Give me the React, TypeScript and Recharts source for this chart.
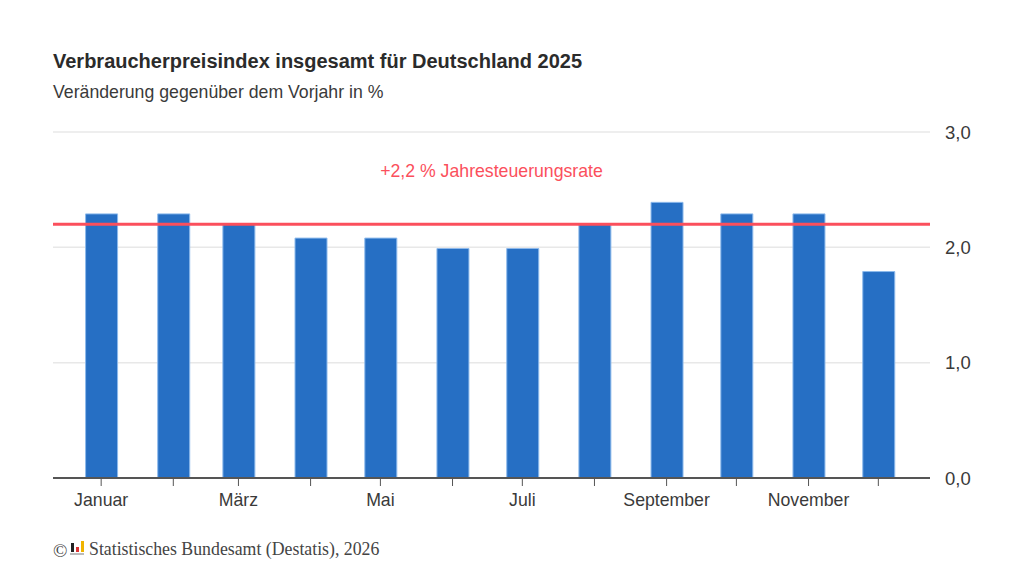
import React from 'react';
import { BarChart, Bar, XAxis, YAxis, CartesianGrid, ReferenceLine } from 'recharts';

const MONTHS = ['Januar', 'Februar', 'März', 'April', 'Mai', 'Juni', 'Juli', 'August', 'September', 'Oktober', 'November', 'Dezember'];
const MONTH_STARTS = ['2025-01-01', '2025-02-01', '2025-03-01', '2025-04-01', '2025-05-01', '2025-06-01', '2025-07-01', '2025-08-01', '2025-09-01', '2025-10-01', '2025-11-01', '2025-12-01'];
const VALUES = [2.29, 2.29, 2.2, 2.08, 2.08, 1.99, 1.99, 2.2, 2.39, 2.29, 2.29, 1.79];
const Y_TICKS = [0, 1, 2, 3];
const ANNUAL_RATE = 2.2;

const DAY = 86400000;
const times = MONTH_STARTS.map((d) => Date.parse(d));
const data = times.map((time, i) => ({ time, value: VALUES[i] }));

const monthLabel = (time: number) => {
    const index = times.indexOf(time);
    return index % 2 === 0 ? MONTHS[index] : '';
};

const FONT = '"Liberation Sans", Arial, sans-serif';
const TEXT = '#3a3a3a';
const RED = '#fb4f5c';

export default function App() {
    return (
        <div style={{ position: 'absolute', left: 0, top: 0, width: 1024, height: 576, background: '#fff', fontFamily: FONT, color: TEXT }}>
            <div style={{ position: 'absolute', left: 53, top: 49, fontSize: 20, fontWeight: 700, lineHeight: '24px', whiteSpace: 'nowrap', color: '#2b2b2b' }}>
                Verbraucherpreisindex insgesamt für Deutschland 2025
            </div>
            <div style={{ position: 'absolute', left: 53, top: 81, fontSize: 17.7, lineHeight: '22px', whiteSpace: 'nowrap' }}>
                Veränderung gegenüber dem Vorjahr in %
            </div>
            <BarChart
                width={1024}
                height={576}
                data={data}
                barSize={32}
                margin={{ top: 132, right: 34, bottom: 58, left: 53 }}
                style={{ position: 'absolute', left: 0, top: 0 }}
            >
                <CartesianGrid vertical={false} stroke="#e8e8e8" strokeWidth={1.5} />
                <XAxis
                    dataKey="time"
                    type="number"
                    scale="linear"
                    domain={[times[0] - 20.7 * DAY, times[11] + 22.2 * DAY]}
                    ticks={times}
                    interval={0}
                    height={40}
                    tickFormatter={monthLabel}
                    tickSize={8}
                    tickMargin={7}
                    axisLine={{ stroke: '#555', strokeWidth: 2 }}
                    tickLine={{ stroke: '#555', strokeWidth: 1 }}
                    tick={{ fill: TEXT, fontSize: 17.7, fontFamily: FONT }}
                />
                <YAxis
                    orientation="right"
                    domain={[0, 3]}
                    ticks={Y_TICKS}
                    width={60}
                    axisLine={false}
                    tickLine={false}
                    tickMargin={9}
                    tickFormatter={(v: number) => v.toFixed(1).replace('.', ',')}
                    tick={{ fill: TEXT, fontSize: 18.5, fontFamily: FONT }}
                />
                <Bar dataKey="value" fill="#266fc4" stroke="#8dbaec" strokeWidth={1} isAnimationActive={false} />
                <ReferenceLine
                    y={ANNUAL_RATE}
                    stroke={RED}
                    strokeWidth={3}
                    label={{ value: '+2,2 % Jahresteuerungsrate', position: 'top', offset: 47, fill: RED, fontSize: 17.7, fontFamily: FONT }}
                />
            </BarChart>
            <div style={{ position: 'absolute', left: 53, top: 539, fontFamily: '"Liberation Serif", serif', fontSize: 17.8, lineHeight: '20px', color: '#444', whiteSpace: 'nowrap' }}>
                <span style={{ position: 'absolute', left: 0, top: 2, fontSize: 19 }}>©</span>
                <svg width={15} height={15} style={{ position: 'absolute', left: 17, top: 2 }}>
                    <rect x={1} y={2} width={3} height={9} fill="#222" />
                    <rect x={6} y={6} width={3} height={5} fill="#d33" />
                    <rect x={11} y={0} width={3} height={11} fill="#f0b400" />
                    <rect x={0} y={12} width={14} height={2} fill="#bbb" />
                </svg>
                <span style={{ marginLeft: 36 }}>Statistisches Bundesamt (Destatis), 2026</span>
            </div>
        </div>
    );
}
